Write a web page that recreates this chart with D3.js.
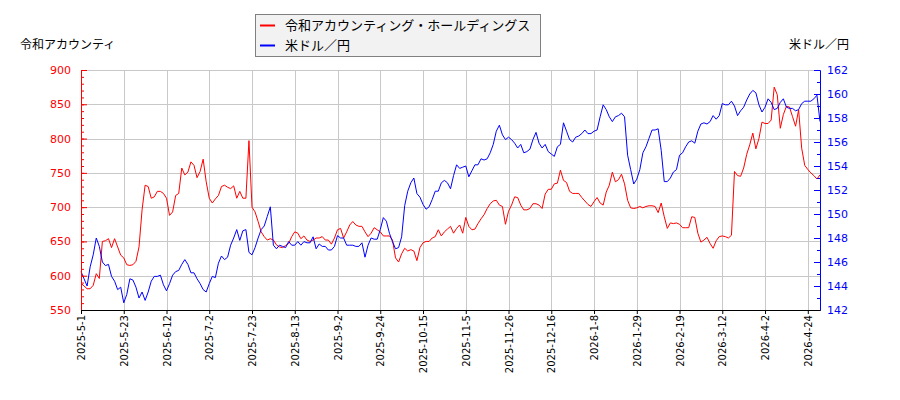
<!DOCTYPE html>
<html>
<head>
<meta charset="utf-8">
<script src="https://cdn.jsdelivr.net/npm/d3@7"></script>
<style>
  html, body { margin: 0; padding: 0; background: #ffffff; }
  svg { display: block; font-family: "DejaVu Sans", "Noto Sans CJK JP", sans-serif; }
</style>
</head>
<body>
<script>
// ---- data ----
const seriesNames = ["令和アカウンティング・ホールディングス", "米ドル／円"];
const leftTitle = "令和アカウンティ";
const rightTitle = "米ドル／円";

const tickIndex = [0, 14, 28, 42, 56, 70, 84, 98, 112, 126, 140, 154, 168, 182, 196, 210, 224, 238];
const tickLabels = ["2025-5-1", "2025-5-23", "2025-6-12", "2025-7-2", "2025-7-23", "2025-8-13", "2025-9-2",
  "2025-9-24", "2025-10-15", "2025-11-5", "2025-11-26", "2025-12-16", "2026-1-8", "2026-1-29",
  "2026-2-19", "2026-3-12", "2026-4-2", "2026-4-24"];

const leftTicks = [550, 600, 650, 700, 750, 800, 850, 900];
const rightTicks = [142, 144, 146, 148, 150, 152, 154, 156, 158, 160, 162];

const stockPrice = [
  589,585,581,581,586,603,596,650,651,654,641,654,642,630,626,616,615,616,621,642,
  696,732,730,713,715,723,723,720,713,688,693,717,720,757,747,751,766,761,743,752,770,
  737,713,706,712,717,730,732,729,727,731,713,723,713,713,797,700,693,679,664,657,
  652,654,652,645,642,641,644,647,657,664,662,654,658,652,650,652,655,655,657,652,
  652,646,655,667,669,655,664,674,679,674,672,672,664,657,662,670,667,664,658,658,
  658,652,626,620,632,640,636,638,636,622,641,648,650,650,655,657,667,658,664,668,
  672,662,669,674,662,685,672,667,668,676,683,689,698,705,709,710,703,701,675,694,
  703,715,714,703,696,696,698,705,705,703,698,719,726,726,734,735,754,739,736,723,
  720,720,720,714,709,704,701,708,714,706,703,722,732,751,737,740,748,734,710,699,
  698,699,701,699,701,702,702,701,692,706,686,669,677,676,677,675,670,670,670,686,
  685,662,649,652,656,647,640,651,657,658,657,655,659,752,746,745,757,777,791,808,
  785,800,824,822,822,827,875,864,815,835,847,846,832,818,842,786,761,755,750,746,741,747
];

const usdJpy = [
  145.2,144.6,144.0,145.6,146.6,148.0,147.3,146.0,145.7,145.8,144.8,144.4,143.7,143.9,142.6,143.3,144.6,144.5,143.9,143.0,
  143.5,142.8,143.5,144.4,144.8,144.8,144.9,144.1,143.6,144.2,144.9,145.2,145.3,145.8,146.2,145.8,145.1,145.1,144.6,144.2,143.7,
  143.5,144.2,144.8,144.7,145.9,146.5,146.2,146.4,147.4,148.0,148.7,147.8,148.6,148.7,146.8,146.6,147.2,148.0,148.7,149.0,
  149.8,150.6,147.4,147.1,147.4,147.3,147.2,147.7,147.4,147.4,147.7,147.4,147.7,147.6,147.6,148.1,147.1,147.5,147.3,147.3,
  147.0,147.0,147.3,148.2,148.0,148.0,147.4,147.4,147.4,147.3,147.3,147.6,146.4,147.4,148.0,147.9,147.9,148.7,149.7,149.4,
  148.4,147.7,147.1,147.2,148.1,150.7,151.9,152.6,153.0,151.7,151.4,150.8,150.4,150.6,151.2,151.9,151.9,152.6,152.8,152.6,
  152.1,153.2,154.1,153.8,153.9,154.0,153.1,153.6,154.1,154.1,154.6,154.5,154.6,155.1,155.8,156.9,157.4,156.6,156.2,156.4,
  156.2,155.9,155.5,155.8,155.1,155.2,155.4,156.2,156.8,155.9,155.5,155.8,155.2,155.0,154.8,155.6,155.8,157.6,156.9,156.2,
  156.0,156.4,156.5,156.7,157.0,156.7,156.7,156.9,157.0,158.1,159.1,158.7,158.1,157.7,158.1,158.2,158.4,158.1,154.9,153.7,
  152.5,152.9,153.7,155.1,155.6,156.3,157.0,157.0,157.1,155.3,152.7,152.7,153.0,153.5,153.7,154.9,155.1,155.6,156.0,156.1,
  155.9,156.9,157.5,157.6,157.5,157.7,158.2,157.9,158.2,159.2,159.1,159.1,159.4,159.0,158.2,158.6,158.9,159.5,160.0,160.3,
  160.1,159.1,158.5,158.9,159.6,159.3,158.7,158.8,159.3,159.6,158.9,158.8,158.8,158.6,158.7,159.2,159.4,159.4,159.4,159.6,159.9,157.7
];

// ---- layout ----
const W = 900, H = 400;
const plot = { left: 81, right: 820, top: 70, bottom: 310 };
const RED = "#ff0000", BLUE = "#0000ff", GRID = "#c8c8c8";

const svg = d3.select("body").append("svg").attr("width", W).attr("height", H);

const x = d3.scaleLinear().domain([0, stockPrice.length - 1]).range([plot.left, plot.right]);
const yL = d3.scaleLinear().domain([d3.min(leftTicks), d3.max(leftTicks)]).range([plot.bottom, plot.top]);
const yR = d3.scaleLinear().domain([d3.min(rightTicks), d3.max(rightTicks)]).range([plot.bottom, plot.top]);

// grid
const grid = svg.append("g").attr("stroke", GRID).attr("stroke-width", 1).attr("shape-rendering", "crispEdges");
grid.selectAll("line.h").data(leftTicks).join("line").attr("class", "h")
  .attr("x1", plot.left).attr("x2", plot.right)
  .attr("y1", d => Math.round(yL(d)) + 0.5).attr("y2", d => Math.round(yL(d)) + 0.5);
grid.selectAll("line.v").data(tickIndex).join("line").attr("class", "v")
  .attr("x1", d => Math.round(x(d)) + 0.5).attr("x2", d => Math.round(x(d)) + 0.5)
  .attr("y1", plot.top).attr("y2", plot.bottom);

// lines
const clip = svg.append("clipPath").attr("id", "clip").append("rect")
  .attr("x", plot.left).attr("y", plot.top - 2).attr("width", plot.right - plot.left + 1).attr("height", plot.bottom - plot.top + 4);
svg.append("path").datum(stockPrice)
  .attr("fill", "none").attr("stroke", RED).attr("stroke-width", 1)
  .attr("d", d3.line().x((d, i) => x(i)).y(d => yL(d)));
svg.append("path").datum(usdJpy)
  .attr("fill", "none").attr("stroke", BLUE).attr("stroke-width", 1)
  .attr("d", d3.line().x((d, i) => x(i)).y(d => yR(d)));

// left axis
const minorLeft = d3.range(d3.min(leftTicks), d3.max(leftTicks) + 1, 10);
const gLm = svg.append("g").attr("transform", `translate(${plot.left},0)`)
  .call(d3.axisLeft(yL).tickValues(minorLeft).tickSizeInner(-3).tickSizeOuter(0).tickFormat(""));
gLm.selectAll("line").attr("stroke", RED);
gLm.select(".domain").attr("stroke", RED);
const gL = svg.append("g").attr("transform", `translate(${plot.left},0)`)
  .call(d3.axisLeft(yL).tickValues(leftTicks).tickSizeInner(-6).tickSizeOuter(0).tickPadding(10));
gL.select(".domain").attr("stroke", RED);
gL.selectAll("line").attr("stroke", RED);
gL.selectAll("text").attr("fill", RED).attr("font-size", 11).attr("font-family", "DejaVu Sans");

// right axis
const minorRight = d3.range(d3.min(rightTicks), d3.max(rightTicks) + 0.5, 1);
const gRm = svg.append("g").attr("transform", `translate(${plot.right},0)`)
  .call(d3.axisRight(yR).tickValues(minorRight).tickSizeInner(-3).tickSizeOuter(0).tickFormat(""));
gRm.selectAll("line").attr("stroke", BLUE);
gRm.select(".domain").attr("stroke", BLUE);
const gR = svg.append("g").attr("transform", `translate(${plot.right},0)`)
  .call(d3.axisRight(yR).tickValues(rightTicks).tickSizeInner(-6).tickSizeOuter(0).tickPadding(7));
gR.select(".domain").attr("stroke", BLUE);
gR.selectAll("line").attr("stroke", BLUE);
gR.selectAll("text").attr("fill", BLUE).attr("font-size", 11).attr("font-family", "DejaVu Sans");

// bottom axis
const gB = svg.append("g").attr("transform", `translate(0,${plot.bottom})`)
  .call(d3.axisBottom(x).tickValues(tickIndex).tickFormat((d, i) => tickLabels[i]).tickSizeInner(4).tickSizeOuter(0));
gB.select(".domain").attr("stroke", "#000");
gB.selectAll("line").attr("stroke", "#000");
gB.selectAll("text")
  .attr("transform", "rotate(-90)")
  .attr("text-anchor", "end")
  .attr("x", -5).attr("y", 0).attr("dy", "0.35em")
  .attr("fill", "#000").attr("font-size", 10).attr("font-family", "DejaVu Sans");

// axis titles
svg.append("text").attr("x", 20).attr("y", 49).attr("font-size", 12).attr("fill", "#000").text(leftTitle);
svg.append("text").attr("x", 849).attr("y", 49).attr("text-anchor", "end").attr("font-size", 12).attr("fill", "#000").text(rightTitle);

// legend
const lg = svg.append("g");
lg.append("rect").attr("x", 255.5).attr("y", 14.5).attr("width", 285).attr("height", 42)
  .attr("fill", "#f2f2f2").attr("stroke", "#808080");
const colors = [RED, BLUE];
seriesNames.forEach((name, i) => {
  const cy = 25.5 + i * 20;
  lg.append("line").attr("x1", 260).attr("x2", 275).attr("y1", cy).attr("y2", cy)
    .attr("stroke", colors[i]).attr("stroke-width", 2);
  lg.append("text").attr("x", 285).attr("y", cy).attr("dy", "0.36em")
    .attr("font-size", 13).attr("fill", "#000").text(name);
});
</script>
</body>
</html>
